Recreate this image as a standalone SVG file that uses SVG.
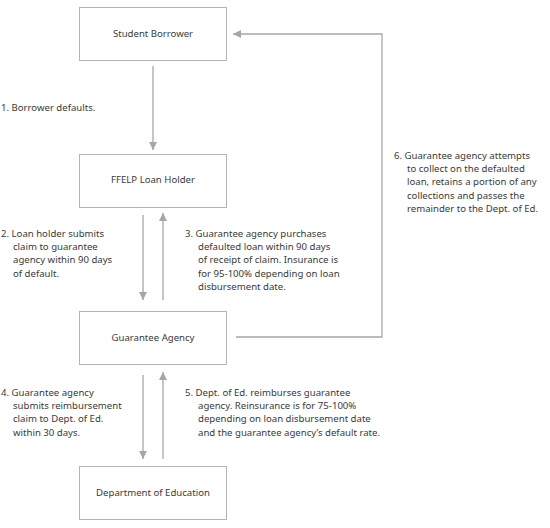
<svg xmlns="http://www.w3.org/2000/svg" width="550" height="528" viewBox="0 0 550 528">
<style>
.box{fill:#fff;stroke:#b4b4b4;stroke-width:1}
.lbl{font-family:"Noto Sans","Open Sans",sans-serif;font-size:9.6px;fill:#3a3a3a}
.nt{font-family:"Noto Sans","Open Sans",sans-serif;font-size:9.6px;fill:#3a3a3a;text-anchor:middle}
.con{fill:none;stroke:#a6a6a6;stroke-width:1.3}
</style>
<defs>
<marker id="ah" viewBox="0 0 10 10" refX="10" refY="5" markerWidth="8" markerHeight="8" markerUnits="userSpaceOnUse" orient="auto">
<path d="M0,0 L10,5 L0,10 z" fill="#a6a6a6"/>
</marker>
</defs>
<rect width="550" height="528" fill="#fff"/>
<g id="connectors">
<line class="con" x1="153" y1="66" x2="153" y2="150" marker-end="url(#ah)"/>
<line class="con" x1="143" y1="215" x2="143" y2="300" marker-end="url(#ah)"/>
<line class="con" x1="163" y1="300" x2="163" y2="213" marker-end="url(#ah)"/>
<line class="con" x1="143" y1="375" x2="143" y2="459" marker-end="url(#ah)"/>
<line class="con" x1="163" y1="459" x2="163" y2="372" marker-end="url(#ah)"/>
<polyline class="con" points="236,337 382,337 382,34 233,34" marker-end="url(#ah)"/>
</g>
<g id="student-borrower">
<rect class="box" x="79.5" y="7.5" width="147" height="53"/>
<text class="nt" x="153" y="37">Student Borrower</text>
</g>
<g id="ffelp-loan-holder">
<rect class="box" x="79.5" y="154.5" width="147" height="53"/>
<text class="nt" x="153" y="183">FFELP Loan Holder</text>
</g>
<g id="guarantee-agency">
<rect class="box" x="79.5" y="311.5" width="147" height="53"/>
<text class="nt" x="153" y="341">Guarantee Agency</text>
</g>
<g id="department-of-education">
<rect class="box" x="79.5" y="466.5" width="147" height="53"/>
<text class="nt" x="153" y="496">Department of Education</text>
</g>
<g id="labels">
<text class="lbl" x="1" y="111">1. Borrower defaults.</text>
<text class="lbl" y="236.5"><tspan x="1">2. Loan holder submits</tspan><tspan x="13" dy="13.4">claim to guarantee</tspan><tspan x="13" dy="13.4">agency within 90 days</tspan><tspan x="13" dy="13.4">of default.</tspan></text>
<text class="lbl" y="236.5"><tspan x="185">3. Guarantee agency purchases</tspan><tspan x="198" dy="13.4">defaulted loan within 90 days</tspan><tspan x="198" dy="13.4">of receipt of claim. Insurance is</tspan><tspan x="198" dy="13.4">for 95-100% depending on loan</tspan><tspan x="198" dy="13.4">disbursement date.</tspan></text>
<text class="lbl" y="158.5"><tspan x="394">6. Guarantee agency attempts</tspan><tspan x="407" dy="13.4">to collect on the defaulted</tspan><tspan x="407" dy="13.4">loan, retains a portion of any</tspan><tspan x="407" dy="13.4">collections and passes the</tspan><tspan x="407" dy="13.4">remainder to the Dept. of Ed.</tspan></text>
<text class="lbl" y="395.5"><tspan x="1">4. Guarantee agency</tspan><tspan x="13" dy="13.4">submits reimbursement</tspan><tspan x="13" dy="13.4">claim to Dept. of Ed.</tspan><tspan x="13" dy="13.4">within 30 days.</tspan></text>
<text class="lbl" y="395.5"><tspan x="185">5. Dept. of Ed. reimburses guarantee</tspan><tspan x="198" dy="13.4">agency. Reinsurance is for 75-100%</tspan><tspan x="198" dy="13.4">depending on loan disbursement date</tspan><tspan x="198" dy="13.4">and the guarantee agency’s default rate.</tspan></text>
</g>
</svg>
